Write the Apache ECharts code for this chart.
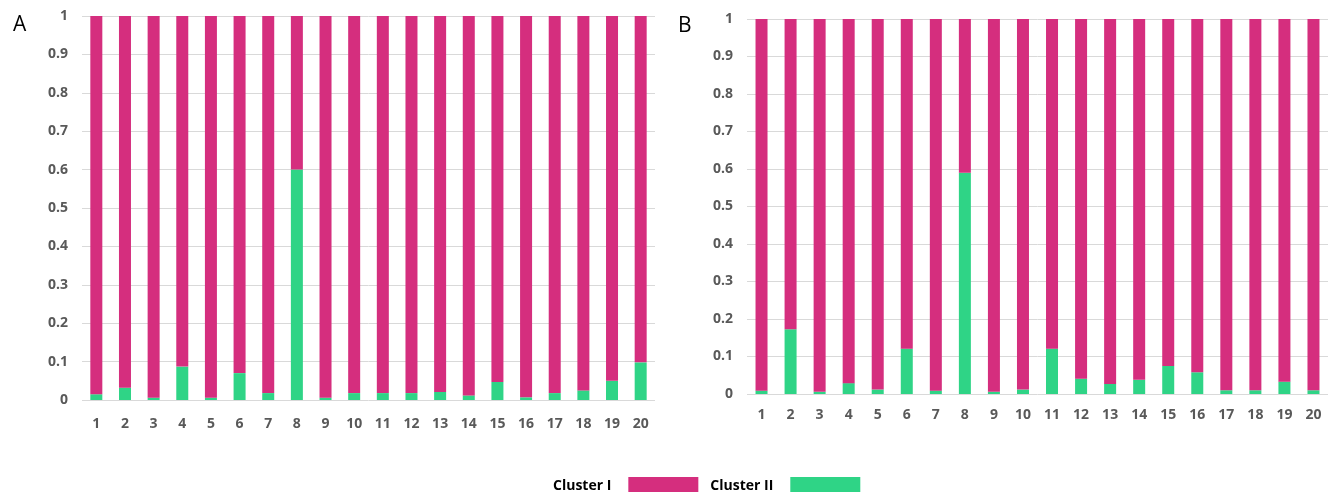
<!DOCTYPE html>
<html><head><meta charset="utf-8">
<script src="https://cdn.jsdelivr.net/npm/echarts@6/dist/echarts.min.js"></script>
<style>html,body{margin:0;padding:0;background:#fff}#c{width:1336px;height:492px}</style>
</head><body><div id="c"></div>
<script>
const categories = ['1','2','3','4','5','6','7','8','9','10','11','12','13','14','15','16','17','18','19','20'];
const yTicks = [0,0.1,0.2,0.3,0.4,0.5,0.6,0.7,0.8,0.9,1];
const clusterII_A = [0.015,0.032,0.006,0.087,0.006,0.070,0.018,0.600,0.006,0.018,0.018,0.018,0.021,0.012,0.047,0.007,0.018,0.025,0.050,0.098];
const clusterI_A  = [0.985,0.968,0.994,0.913,0.994,0.930,0.982,0.400,0.994,0.982,0.982,0.982,0.979,0.988,0.953,0.993,0.982,0.975,0.950,0.902];
const clusterII_B = [0.009,0.173,0.006,0.029,0.012,0.121,0.009,0.590,0.006,0.012,0.121,0.041,0.027,0.038,0.075,0.058,0.010,0.010,0.033,0.010];
const clusterI_B  = [0.991,0.827,0.994,0.971,0.988,0.879,0.991,0.410,0.994,0.988,0.879,0.959,0.973,0.962,0.925,0.942,0.990,0.990,0.967,0.990];

const MAG = '#d52e7e', GRN = '#2fd486';
const lab = {color:'#595959', fontFamily:'Open Sans', fontWeight:'bold', fontSize:14};
function xAx(i, margin){return {type:'category', gridIndex:i, data:categories, axisLine:{show:false}, axisTick:{show:false}, axisLabel:Object.assign({margin:margin}, lab)};}
function yAx(i){return {type:'value', gridIndex:i, min:0, max:1, interval:0.1, axisLine:{show:false}, axisTick:{show:false},
  splitLine:{lineStyle:{color:'#d9d9d9'}}, axisLabel:Object.assign({margin:14, formatter:v=>String(Math.round(v*10)/10)}, lab)};}

const chart = echarts.init(document.getElementById('c'));
chart.setOption({
  animation:false,
  title:[
    {text:'A', left:8, top:10, textStyle:{fontFamily:'Open Sans', fontWeight:'normal', fontSize:21, color:'#000'}},
    {text:'B', left:673, top:11, textStyle:{fontFamily:'Open Sans', fontWeight:'normal', fontSize:21, color:'#000'}}
  ],
  legend:{data:['Cluster I','Cluster II'], left:548, top:472, align:'right', itemWidth:70, itemHeight:18, itemGap:12,
    icon:'rect', textStyle:{fontFamily:'Open Sans', fontWeight:'bold', fontSize:14, color:'#000', padding:[0,12,0,0]}},
  grid:[
    {left:82, right:681, top:16, bottom:92},
    {left:747, right:8, top:19, bottom:98}
  ],
  xAxis:[xAx(0,17), xAx(1,14)],
  yAxis:[yAx(0), yAx(1)],
  series:[
    {name:'Cluster II', type:'bar', stack:'a', xAxisIndex:0, yAxisIndex:0, barWidth:12, data:clusterII_A, itemStyle:{color:GRN}},
    {name:'Cluster I', type:'bar', stack:'a', xAxisIndex:0, yAxisIndex:0, barWidth:12, data:clusterI_A, itemStyle:{color:MAG}},
    {name:'Cluster II', type:'bar', stack:'b', xAxisIndex:1, yAxisIndex:1, barWidth:12, data:clusterII_B, itemStyle:{color:GRN}},
    {name:'Cluster I', type:'bar', stack:'b', xAxisIndex:1, yAxisIndex:1, barWidth:12, data:clusterI_B, itemStyle:{color:MAG}}
  ]
});
</script></body></html>
